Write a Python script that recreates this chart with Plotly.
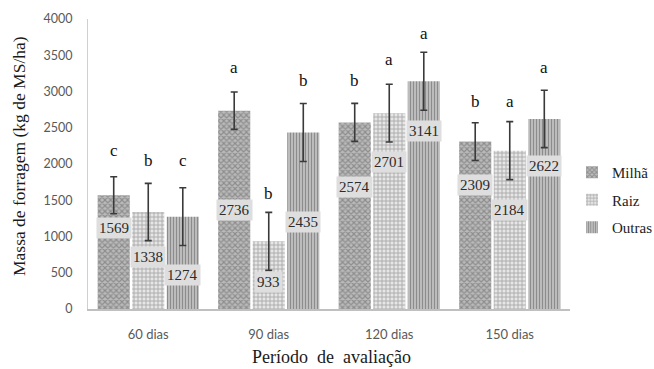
import plotly.graph_objects as go

categories = ["60 dias", "90 dias", "120 dias", "150 dias"]
series_names = ["Milhã", "Raiz", "Outras"]
milha = [1569, 2736, 2574, 2309]
raiz = [1338, 933, 2701, 2184]
outras = [1274, 2435, 3141, 2622]
err_milha = [255, 258, 262, 260]
err_raiz = [395, 400, 398, 400]
err_outras = [398, 400, 400, 396]
letters_milha = ["c", "a", "b", "b"]
letters_raiz = ["b", "b", "a", "a"]
letters_outras = ["c", "b", "a", "a"]

# annotation placement (value units), as placed by hand in the original
letter_y_milha = [2193, 3337, 3158, 2868]
letter_y_raiz = [2055, 1600, 3448, 2868]
letter_y_outras = [2055, 3158, 3806, 3328]
label_y_milha = [1117, 1365, 1682, 1717]
label_y_raiz = [721, 377, 2025, 1365]
label_y_outras = [469, 1206, 2462, 1967]

values = [milha, raiz, outras]
errors = [err_milha, err_raiz, err_outras]
letters = [letters_milha, letters_raiz, letters_outras]
letter_ys = [letter_y_milha, letter_y_raiz, letter_y_outras]
label_ys = [label_y_milha, label_y_raiz, label_y_outras]

patterns = [
    dict(shape="x", size=4, solidity=0.5, fgcolor="#606060", bgcolor="#bababa", fillmode="overlay"),
    dict(shape="+", size=4, solidity=0.4, fgcolor="#6a6a6a", bgcolor="#e6e6e6", fillmode="overlay"),
    dict(shape="|", size=3, solidity=0.55, fgcolor="#454545", bgcolor="#d2d2d2", fillmode="overlay"),
]

BARGAP = 0.14
slot = (1 - BARGAP) / 3
offsets = [-slot, 0, slot]

fig = go.Figure()
for k in range(3):
    fig.add_trace(go.Bar(
        name=series_names[k],
        x=categories,
        y=values[k],
        legendgroup=series_names[k],
        marker=dict(color=patterns[k]["bgcolor"], line=dict(width=0), pattern=patterns[k]),
        error_y=dict(type="data", array=errors[k], symmetric=True,
                     color="#3a3a3a", thickness=1.6, width=3.5),
    ))

serif = "Liberation Serif, Times New Roman, serif"
W, H = 654, 369
ML, MR, MT, MB = 88, 84, 19, 60
pw, ph = W - ML - MR, H - MT - MB

annotations = []
for k in range(3):
    for i in range(len(categories)):
        xpos = i + offsets[k]
        annotations.append(dict(
            x=xpos, y=label_ys[k][i], xref="x", yref="y",
            text=str(values[k][i]), showarrow=False,
            font=dict(family=serif, size=15, color="#2b2b2b"),
            bgcolor="#dedede", borderpad=2,
        ))
        annotations.append(dict(
            x=xpos, y=letter_ys[k][i], xref="x", yref="y",
            text=letters[k][i], showarrow=False,
            font=dict(family=serif, size=17, color="#111111"),
        ))

annotations.append(dict(
    x=(19 - ML) / pw, y=(H - MB - 156) / ph, xref="paper", yref="paper",
    xanchor="center", yanchor="middle",
    text="Massa de forragem (kg de MS/ha)",
    showarrow=False, textangle=-90, font=dict(family=serif, size=17.5, color="#1a1a1a"),
))
annotations.append(dict(
    x=(331 - ML) / pw, y=(H - MB - 357) / ph, xref="paper", yref="paper",
    xanchor="center", yanchor="middle",
    text="Período\u00a0\u00a0de\u00a0\u00a0avaliação", showarrow=False,
    font=dict(family=serif, size=18, color="#1a1a1a"),
))

fig.update_layout(
    width=W, height=H,
    margin=dict(l=ML, r=MR, t=MT, b=MB, autoexpand=False),
    paper_bgcolor="white", plot_bgcolor="white",
    barmode="group", bargap=BARGAP, bargroupgap=0.07,
    showlegend=True,
    legend=dict(
        x=(572 - ML) / pw, xanchor="left", y=(H - MB - 156) / ph, yanchor="top",
        font=dict(family=serif, size=15, color="#222222"),
        tracegroupgap=5, itemwidth=30, bgcolor="rgba(0,0,0,0)",
    ),
    annotations=annotations,
)
fig.update_xaxes(
    type="category", showgrid=False, showline=True, linecolor="#c0c0c0", linewidth=1.5,
    ticks="", tickfont=dict(family="Lato, Calibri, sans-serif", size=13, color="#595959"),
    ticklabelstandoff=13,
)
fig.update_yaxes(
    range=[0, 4000], dtick=500, showgrid=False, showline=True, linecolor="#d0d0d0", linewidth=1,
    ticks="", zeroline=False,
    tickfont=dict(family="Lato, Calibri, sans-serif", size=12.5, color="#595959"),
    ticklabelstandoff=12,
)

fig.write_html("out.html", config={"displayModeBar": False},
               post_script="document.body.style.margin='0px';document.body.style.overflow='hidden';")
